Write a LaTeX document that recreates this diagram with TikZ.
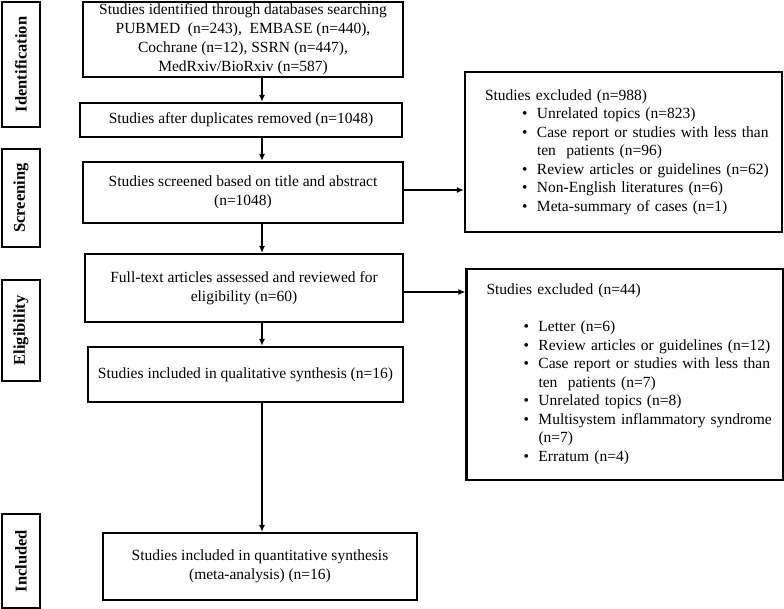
\documentclass[tikz,border=0pt]{standalone}
\usepackage{fontspec}
\setmainfont{Liberation Serif}
\usetikzlibrary{arrows.meta}

\tikzset{
    box/.style={draw, line width=2.2pt, align=center, inner sep=0pt, font=\fontsize{15.5}{19}\selectfont},
    phase/.style={draw, line width=2.2pt, rotate=90, inner sep=0pt, minimum height=38pt, font=\fontsize{16.5}{20}\selectfont\bfseries},
    exbox/.style={draw, line width=2.2pt, align=left, inner xsep=8.5pt, inner ysep=0pt, text width=300pt, font=\fontsize{15.5}{18.5}\selectfont},
    arr/.style={line width=1.8pt, -{Latex[length=7pt,width=6pt]}}
}

\newcommand{\extitle}[1]{\hspace*{11.5pt}#1}
\newcommand{\exitem}[1]{\par\hangindent=63.5pt\hangafter=1\hspace*{48.5pt}\makebox[15pt][l]{\textbullet}#1}

\begin{document}
\begin{tikzpicture}[x=1pt, y=-1pt]
            \useasboundingbox (0,0) rectangle (784,609);
            \coordinate (spine) at (262,0);

            % phases
            \node[phase, minimum width=125pt] (lident) at (21,64.5) {Identification};
            \node[phase, minimum width=98pt] (lscreen) at (21,198) {Screening};
            \node[phase, minimum width=101pt] (lelig) at (21,330.5) {Eligibility};
            \node[phase, minimum width=94pt] (lincl) at (21,561) {Included};

            % main column
            \node[box, minimum width=320pt, minimum height=75pt] (ident) at (243,39.5)
                {Studies identified through databases searching\\PUBMED\ \ (n=243),\ \ EMBASE (n=440),\\Cochrane (n=12), SSRN (n=447),\\MedRxiv/BioRxiv (n=587)};
            \node[box, minimum width=322pt, minimum height=34pt] (dupl) at (241,120)
                {Studies after duplicates removed (n=1048)};
            \node[box, minimum width=320pt, minimum height=61pt] (screen) at (243,192.5)
                {Studies screened based on title and abstract\\(n=1048)};
            \node[box, minimum width=318pt, minimum height=68pt] (full) at (244,288)
                {Full-text articles assessed and reviewed for\\eligibility (n=60)};
            \node[box, minimum width=315pt, minimum height=55pt] (qual) at (245.5,374.5)
                {Studies included in qualitative synthesis (n=16)};
            \node[box, minimum width=314pt, minimum height=67pt] (quant) at (260,566.5)
                {Studies included in quantitative synthesis\\(meta-analysis) (n=16)};

            % exclusions
            \node[exbox, minimum height=160pt] (excl1) at (623.5,152) {%
                \extitle{Studies excluded (n=988)}
                \exitem{\mbox{Unrelated topics (n=823)}}
                \exitem{\mbox{Case report or studies with less than}\newline\mbox{ten\ \ patients (n=96)}}
                \exitem{\mbox{Review articles or guidelines (n=62)}}
                \exitem{\mbox{Non-English literatures (n=6)}}
                \exitem{\mbox{Meta-summary of cases (n=1)}}};
            \node[exbox, minimum height=211pt] (excl2) at (625,374.5) {%
                \extitle{Studies excluded (n=44)}\par\mbox{}
                \exitem{\mbox{Letter (n=6)}}
                \exitem{\mbox{Review articles or guidelines (n=12)}}
                \exitem{\mbox{Case report or studies with less than}\newline\mbox{ten\ \ patients (n=7)}}
                \exitem{\mbox{Unrelated topics (n=8)}}
                \exitem{\mbox{Multisystem inflammatory syndrome}\newline\mbox{(n=7)}}
                \exitem{\mbox{Erratum (n=4)}}};

            \draw[arr] (ident.south -| spine) -- (dupl.north -| spine);
            \draw[arr] (dupl.south -| spine) -- (screen.north -| spine);
            \draw[arr] (screen.south -| spine) -- (full.north -| spine);
            \draw[arr] (full.south -| spine) -- (qual.north -| spine);
            \draw[arr] (qual.south -| spine) -- (quant.north -| spine);
            \draw[arr] ([yshift=2.5pt]screen.east) -- ([yshift=2.5pt]screen.east -| excl1.west);
            \draw[arr] ([yshift=-4pt]full.east) -- ([yshift=-4pt]full.east -| excl2.west);

        \end{tikzpicture}
\end{document}
